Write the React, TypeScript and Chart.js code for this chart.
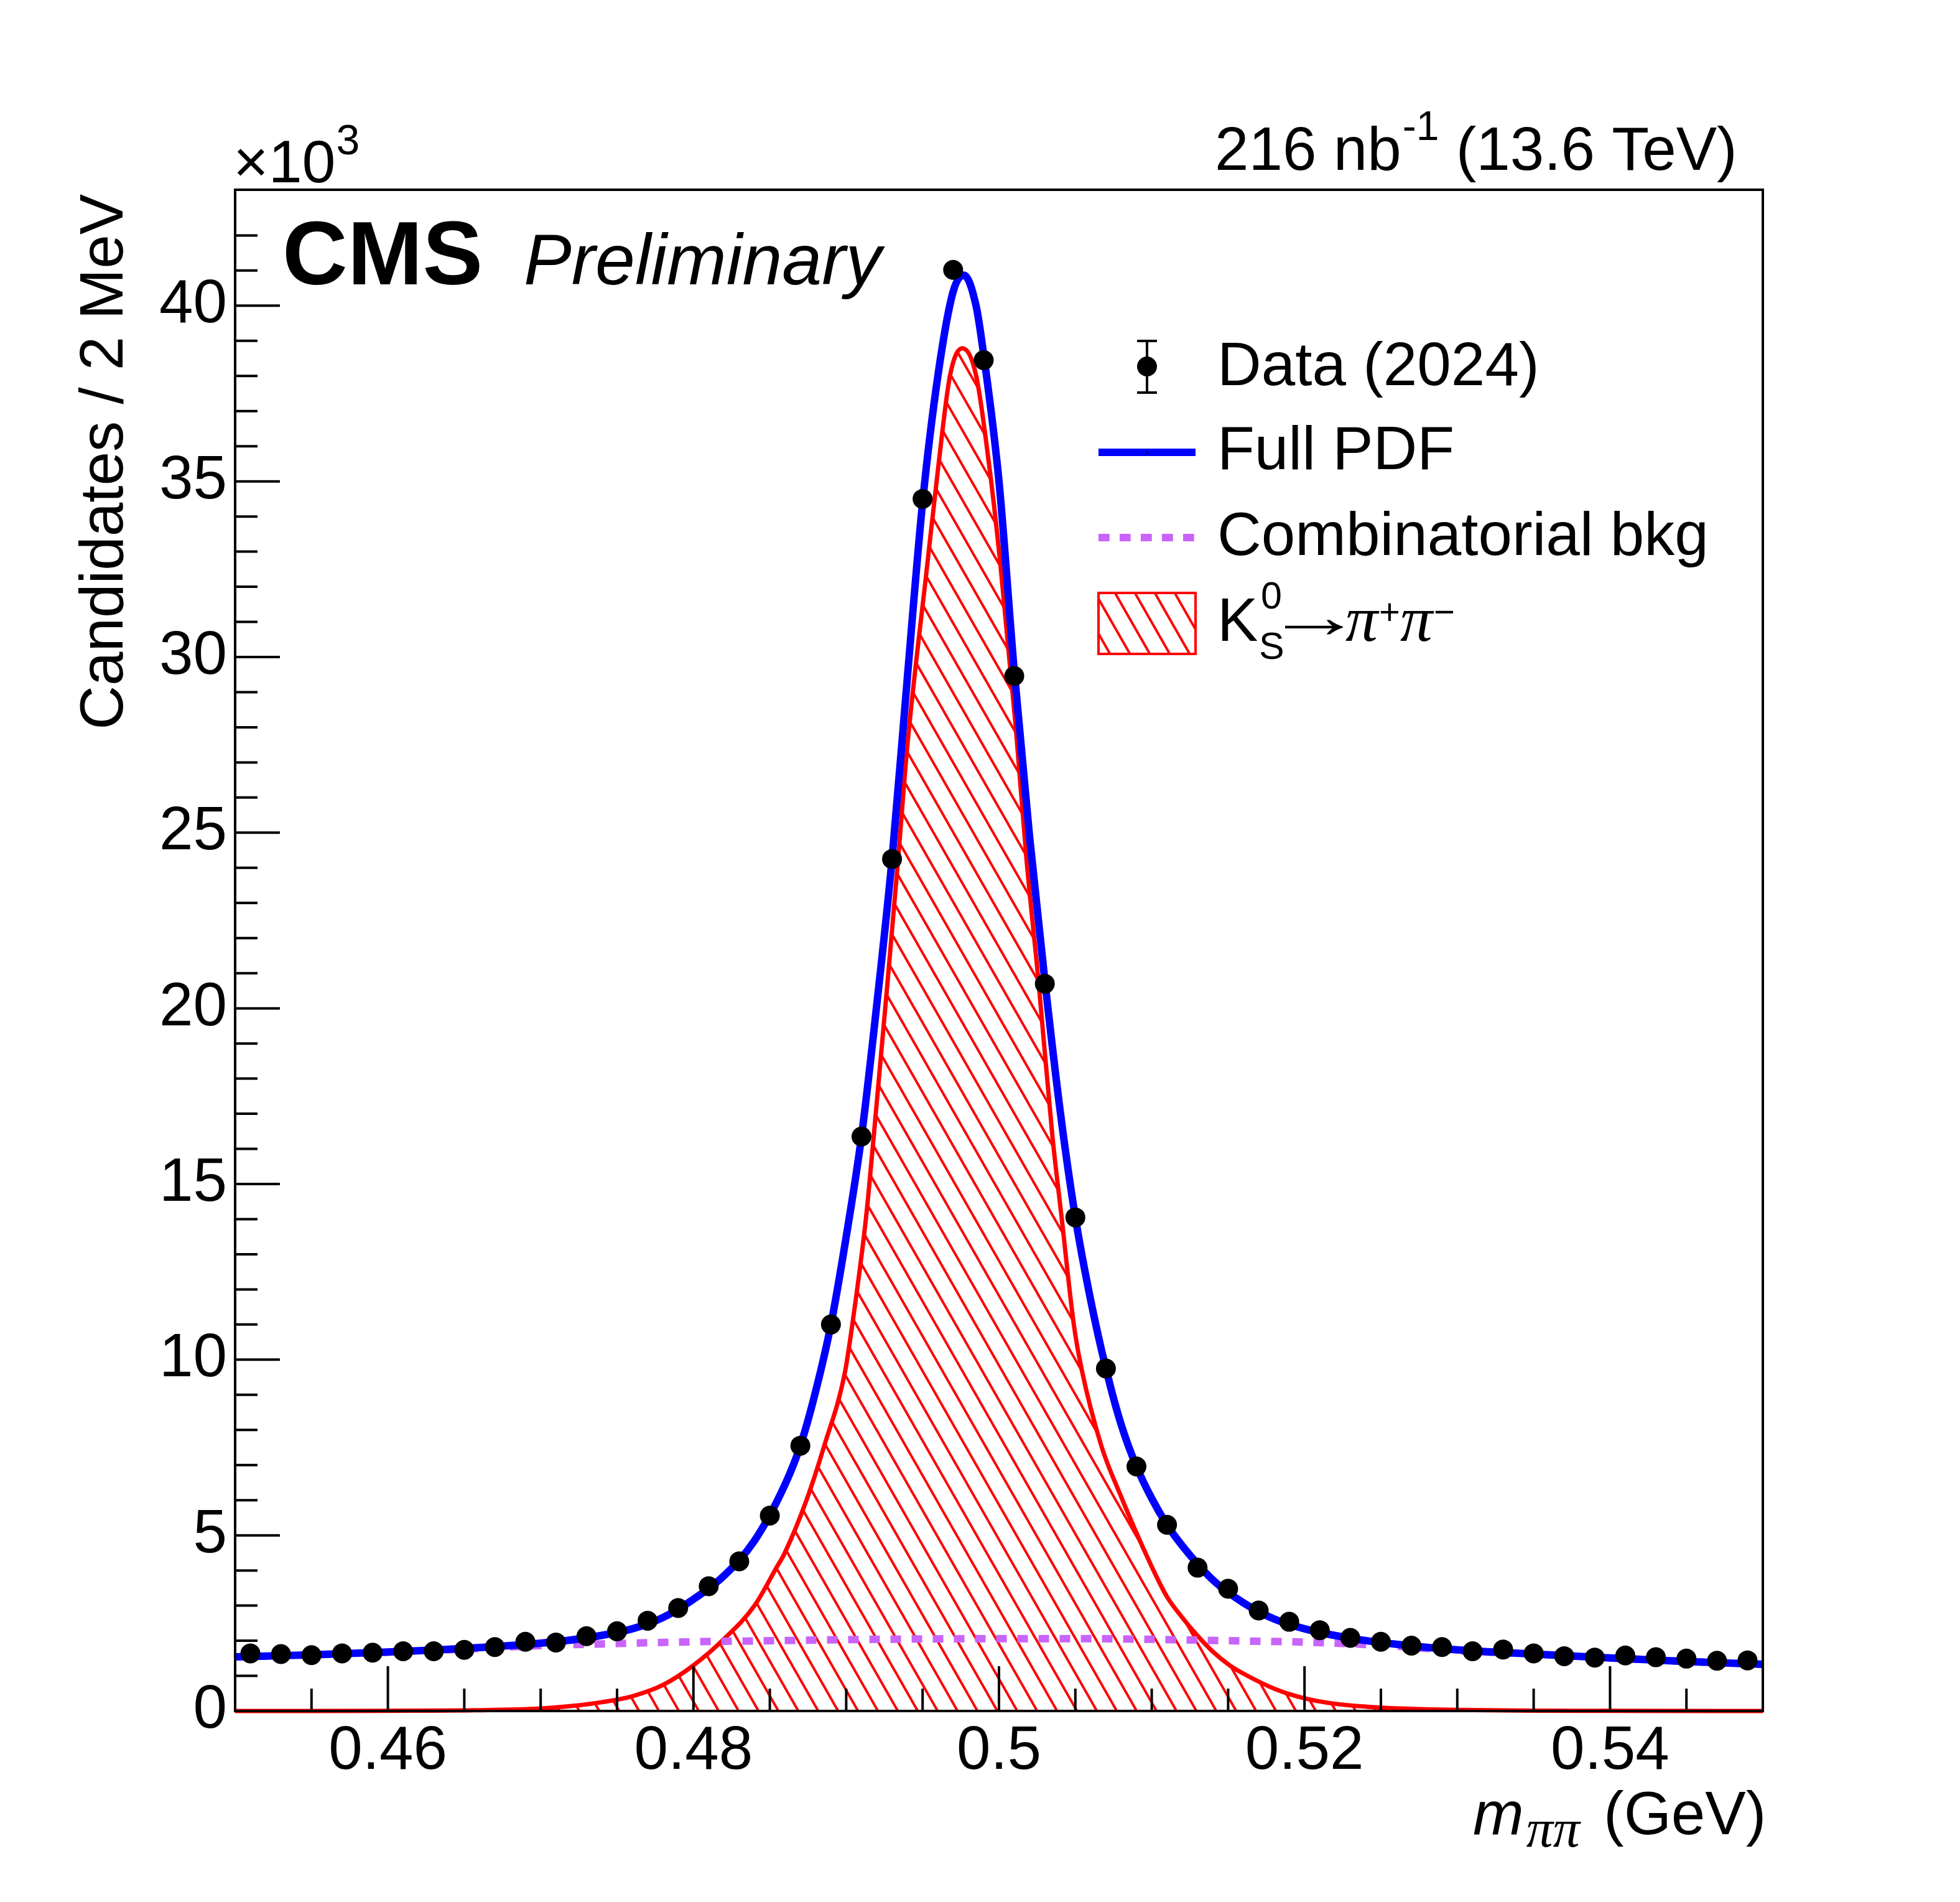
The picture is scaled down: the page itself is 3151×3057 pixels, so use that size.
import { useEffect, useRef } from 'react'
import { Chart, registerables } from 'chart.js'

Chart.register(...registerables)

const W = 3151
const H = 3057
const SANS = '"Liberation Sans", Arial, Helvetica, sans-serif'
const SERIF = '"Liberation Serif", "Times New Roman", serif'

// m(pi pi) bin centres in GeV, 2 MeV bins
const binCenters = [
  0.451, 0.453, 0.455, 0.457, 0.459, 0.461, 0.463, 0.465, 0.467, 0.469,
  0.471, 0.473, 0.475, 0.477, 0.479, 0.481, 0.483, 0.485, 0.487, 0.489,
  0.491, 0.493, 0.495, 0.497, 0.499, 0.501, 0.503, 0.505, 0.507, 0.509,
  0.511, 0.513, 0.515, 0.517, 0.519, 0.521, 0.523, 0.525, 0.527, 0.529,
  0.531, 0.533, 0.535, 0.537, 0.539, 0.541, 0.543, 0.545, 0.547, 0.549,
]
// candidates per bin, in units of 10^3
const dataCounts = [
  1.64, 1.62, 1.59, 1.64, 1.66, 1.70, 1.70, 1.74, 1.82, 1.97,
  1.95, 2.13, 2.27, 2.57, 2.93, 3.55, 4.26, 5.56, 7.55, 11.0,
  16.35, 24.25, 34.5, 41.02, 38.45, 29.46, 20.7, 14.05, 9.75, 6.96,
  5.30, 4.08, 3.48, 2.86, 2.54, 2.30, 2.08, 1.97, 1.86, 1.82,
  1.70, 1.75, 1.64, 1.56, 1.52, 1.58, 1.53, 1.49, 1.43, 1.44,
]

// fit curves
const fullPdfX = [
  0.450, 0.455, 0.460, 0.465, 0.470, 0.473, 0.476, 0.478, 0.480, 0.482,
  0.484, 0.486, 0.487, 0.488, 0.489, 0.490, 0.491, 0.492, 0.493, 0.494,
  0.495, 0.496, 0.497, 0.4977, 0.4985, 0.499, 0.500, 0.501, 0.502, 0.503,
  0.504, 0.505, 0.506, 0.507, 0.508, 0.509, 0.510, 0.511, 0.512, 0.514,
  0.516, 0.518, 0.520, 0.523, 0.526, 0.530, 0.535, 0.540, 0.545, 0.550,
]
const fullPdfY = [
  1.54, 1.60, 1.68, 1.78, 1.93, 2.08, 2.34, 2.66, 3.18, 3.85,
  4.85, 6.45, 7.55, 9.1, 11.0, 13.5, 16.35, 20.1, 24.25, 29.4,
  34.4, 38.0, 40.4, 40.87, 40.0, 38.6, 35.0, 29.6, 24.9, 20.8,
  17.1, 14.05, 11.7, 9.75, 8.15, 6.96, 6.05, 5.30, 4.70, 3.73,
  3.08, 2.62, 2.34, 2.07, 1.90, 1.74, 1.62, 1.51, 1.41, 1.33,
]

const signalX = [
  0.450, 0.455, 0.460, 0.4657, 0.470, 0.472, 0.474, 0.476, 0.478, 0.480,
  0.482, 0.484, 0.4855, 0.4859, 0.4874, 0.4886, 0.4899, 0.4904,
  0.4913, 0.4918, 0.4927, 0.4934, 0.4940, 0.4953, 0.4960, 0.4968, 0.4976, 0.4985,
  0.4994, 0.5001, 0.5011, 0.5018, 0.5026, 0.5035, 0.5041, 0.5049, 0.5054, 0.5067,
  0.5079, 0.5099, 0.5110, 0.5120, 0.5129, 0.5140, 0.5151, 0.5161, 0.5181, 0.5200,
  0.5219, 0.5241, 0.5263, 0.5301, 0.535, 0.540, 0.550,
]
const signalY = [
  0.0, 0.0, 0.005, 0.02, 0.07, 0.14, 0.25, 0.42, 0.74, 1.30,
  2.05, 3.0, 4.13, 4.43, 6.0, 7.6, 9.6, 11.0,
  14.05, 16.35, 20.71, 24.25, 27.46, 32.6, 35.31, 38.02, 38.79, 38.02,
  35.31, 32.6, 28.0, 24.25, 20.71, 16.35, 14.05, 11.0, 9.75, 7.55,
  6.2, 4.20, 3.25, 2.66, 2.19, 1.69, 1.30, 1.04, 0.62, 0.36,
  0.21, 0.12, 0.07, 0.03, 0.01, 0.005, 0.0,
]

const bkgX = [
  0.450, 0.455, 0.460, 0.465, 0.470, 0.475, 0.480, 0.485, 0.490, 0.495,
  0.500, 0.505, 0.510, 0.515, 0.520, 0.525, 0.530, 0.535, 0.540, 0.545, 0.550,
]
const bkgY = [
  1.54, 1.60, 1.675, 1.76, 1.86, 1.92, 1.97, 2.00, 2.03, 2.05,
  2.06, 2.06, 2.04, 2.00, 1.96, 1.87, 1.72, 1.62, 1.51, 1.41, 1.33,
]

const toPoints = (xs: number[], ys: number[]) => xs.map((x, i) => ({ x, y: ys[i] }))

function makeHatch(): CanvasPattern | string {
  const c = document.createElement('canvas')
  c.width = 32
  c.height = 56
  const g = c.getContext('2d')
  if (!g) return 'rgba(255,0,0,0.2)'
  g.strokeStyle = '#ff0000'
  g.lineWidth = 4
  g.lineCap = 'square'
  for (const dx of [-32, 0, 32]) {
    g.beginPath()
    g.moveTo(dx, 0)
    g.lineTo(dx + 32, 56)
    g.stroke()
  }
  return g.createPattern(c, 'repeat') ?? 'rgba(255,0,0,0.2)'
}

export default function App() {
  const canvasRef = useRef<HTMLCanvasElement>(null)

  useEffect(() => {
    const canvas = canvasRef.current
    if (!canvas) return
    const hatch = makeHatch()

    // ROOT-style frame, inward ticks, labels and legend
    const decor = {
      id: 'cmsDecor',
      afterDatasetsDraw(chart: any) {
        const { ctx, chartArea: a, scales } = chart
        const xs = scales.x
        const ys = scales.y
        ctx.save()
        ctx.strokeStyle = '#000'
        ctx.lineWidth = 4
        ctx.beginPath()
        ys.ticks.forEach((t: any) => {
          const v = t.value
          if (Math.abs(v - Math.round(v)) > 1e-6) return
          const len = Math.round(v) % 5 === 0 ? 72 : 36
          const py = ys.getPixelForValue(v)
          ctx.moveTo(a.left, py)
          ctx.lineTo(a.left + len, py)
        })
        xs.ticks.forEach((t: any) => {
          const k = Math.round(t.value * 1000)
          const len = k % 20 === 0 ? 72 : 36
          const px = xs.getPixelForValue(t.value)
          ctx.moveTo(px, a.bottom)
          ctx.lineTo(px, a.bottom - len)
        })
        ctx.stroke()
        ctx.strokeRect(a.left, a.top, a.right - a.left, a.bottom - a.top)
        ctx.restore()
      },
      afterDraw(chart: any) {
        const ctx: CanvasRenderingContext2D = chart.ctx
        ctx.save()
        ctx.fillStyle = '#000'
        ctx.textBaseline = 'alphabetic'
        ctx.textAlign = 'left'

        const put = (s: string, x: number, y: number, font: string) => {
          ctx.font = font
          ctx.fillText(s, x, y)
          return x + ctx.measureText(s).width
        }

        // CMS Preliminary
        put('CMS', 454, 457, `bold 145px ${SANS}`)
        put('Preliminary', 842, 457, `italic 115px ${SANS}`)

        // x10^3
        let cx = put('×10', 375, 293, `97px ${SANS}`)
        put('3', cx + 1, 248, `68px ${SANS}`)

        // luminosity
        cx = put('216 nb', 1953, 273, `98px ${SANS}`)
        cx = put('-1', cx + 2, 225, `66px ${SANS}`)
        put(' (13.6 TeV)', cx, 273, `98px ${SANS}`)

        // y title
        ctx.save()
        ctx.translate(197, 312)
        ctx.rotate(-Math.PI / 2)
        ctx.textAlign = 'right'
        ctx.font = `98px ${SANS}`
        ctx.fillText('Candidates / 2 MeV', 0, 0)
        ctx.restore()

        // x title
        cx = put('m', 2368, 2948, `italic 98px ${SANS}`)
        put('ππ', cx + 4, 2968, `italic 86px ${SERIF}`)
        put('(GeV)', 2578, 2948, `98px ${SANS}`)

        // legend: data
        ctx.strokeStyle = '#000'
        ctx.lineWidth = 4
        ctx.beginPath()
        ctx.moveTo(1844, 548); ctx.lineTo(1844, 631)
        ctx.moveTo(1828, 548); ctx.lineTo(1860, 548)
        ctx.moveTo(1828, 631); ctx.lineTo(1860, 631)
        ctx.stroke()
        ctx.beginPath()
        ctx.arc(1844, 589, 16, 0, Math.PI * 2)
        ctx.fill()
        put('Data (2024)', 1957, 619, `98px ${SANS}`)

        // legend: full pdf
        ctx.strokeStyle = '#0000ff'
        ctx.lineWidth = 12
        ctx.beginPath()
        ctx.moveTo(1766, 727); ctx.lineTo(1922, 727)
        ctx.stroke()
        ctx.fillRect(1843, 726, 3, 3)
        put('Full PDF', 1957, 754, `98px ${SANS}`)

        // legend: background
        ctx.strokeStyle = '#c864fa'
        ctx.setLineDash([17.7, 16.3])
        ctx.beginPath()
        ctx.moveTo(1766, 864); ctx.lineTo(1920, 864)
        ctx.stroke()
        ctx.setLineDash([])
        put('Combinatorial bkg', 1957, 892, `98px ${SANS}`)

        // legend: signal
        ctx.fillStyle = hatch as any
        ctx.fillRect(1766, 953, 156, 98)
        ctx.strokeStyle = '#ff0000'
        ctx.lineWidth = 4
        ctx.strokeRect(1766, 953, 156, 98)
        ctx.fillStyle = '#000'
        put('K', 1957, 1030, `98px ${SANS}`)
        put('0', 2027, 978, `61px ${SANS}`)
        put('S', 2024, 1059, `61px ${SANS}`)
        // long thin arrow: the text glyph stretched horizontally
        ctx.save()
        ctx.translate(2034, 1024)
        ctx.scale(1.6, 1)
        ctx.font = `98px ${SANS}`
        ctx.fillText('→', 0, 0)
        ctx.restore()
        cx = put('π', 2163, 1030, `italic 104px ${SERIF}`)
        cx = put('+', cx + 2, 1003, `58px ${SANS}`)
        cx = put('π', cx, 1030, `italic 104px ${SERIF}`)
        put('−', cx + 2, 1003, `58px ${SANS}`)

        ctx.restore()
      },
    }

    const chart = new Chart(canvas, {
      type: 'line',
      data: {
        datasets: [
          {
            label: 'Data (2024)',
            data: toPoints(binCenters, dataCounts),
            showLine: false,
            pointRadius: 16,
            pointHoverRadius: 16,
            pointBackgroundColor: '#000',
            pointBorderWidth: 0,
            order: 0,
          },
          {
            label: 'Full PDF',
            data: toPoints(fullPdfX, fullPdfY),
            borderColor: '#0000ff',
            borderWidth: 12,
            pointRadius: 0,
            cubicInterpolationMode: 'monotone',
            fill: false,
            order: 1,
          },
          {
            label: 'Combinatorial bkg',
            data: toPoints(bkgX, bkgY),
            borderColor: '#c864fa',
            borderWidth: 12,
            borderDash: [17, 17],
            borderCapStyle: 'butt',
            pointRadius: 0,
            cubicInterpolationMode: 'monotone',
            fill: false,
            order: 2,
          },
          {
            label: 'K0S -> pi+ pi-',
            data: toPoints(signalX, signalY),
            borderColor: '#ff0000',
            borderWidth: 7,
            backgroundColor: hatch,
            pointRadius: 0,
            cubicInterpolationMode: 'monotone',
            fill: 'origin',
            clip: { left: 0, right: 0, top: 0, bottom: 8 },
            order: 3,
          },
        ] as any,
      },
      options: {
        responsive: false,
        maintainAspectRatio: false,
        devicePixelRatio: 1,
        animation: false,
        events: [],
        layout: { padding: { left: 0, right: 317, top: 305, bottom: 0 } },
        plugins: {
          legend: { display: false },
          tooltip: { enabled: false },
        },
        scales: {
          x: {
            type: 'linear',
            min: 0.45,
            max: 0.55,
            grid: { display: false, drawTicks: false },
            border: { display: false },
            ticks: {
              stepSize: 0.005,
              autoSkip: false,
              maxRotation: 0,
              minRotation: 0,
              padding: 7,
              color: '#000',
              font: { family: SANS, size: 98 },
              callback: (v: any) => {
                const k = Math.round(Number(v) * 1000)
                if (k % 20 !== 0) return ''
                return String(k / 1000)
              },
            },
            afterFit: (s: any) => { s.height = 307 },
          },
          y: {
            type: 'linear',
            min: 0,
            max: 43.3,
            grid: { display: false, drawTicks: false },
            border: { display: false },
            ticks: {
              stepSize: 1,
              autoSkip: false,
              padding: 13,
              color: '#000',
              font: { family: SANS, size: 98 },
              callback: (v: any) => {
                const n = Number(v)
                if (Math.abs(n - Math.round(n)) > 1e-6) return ''
                return Math.round(n) % 5 === 0 ? String(Math.round(n)) : ''
              },
            },
            afterFit: (s: any) => { s.width = 378 },
          },
        },
      },
      plugins: [decor],
    } as any)

    return () => {
      chart.destroy()
    }
  }, [])

  return (
    <div style={{ position: 'absolute', left: 0, top: 0, width: W, height: H, background: '#fff' }}>
      <canvas
        ref={canvasRef}
        width={W}
        height={H}
        style={{ display: 'block', width: W, height: H }}
        role="img"
        aria-label="CMS Preliminary K0S to pi+ pi- invariant mass fit"
      />
    </div>
  )
}
